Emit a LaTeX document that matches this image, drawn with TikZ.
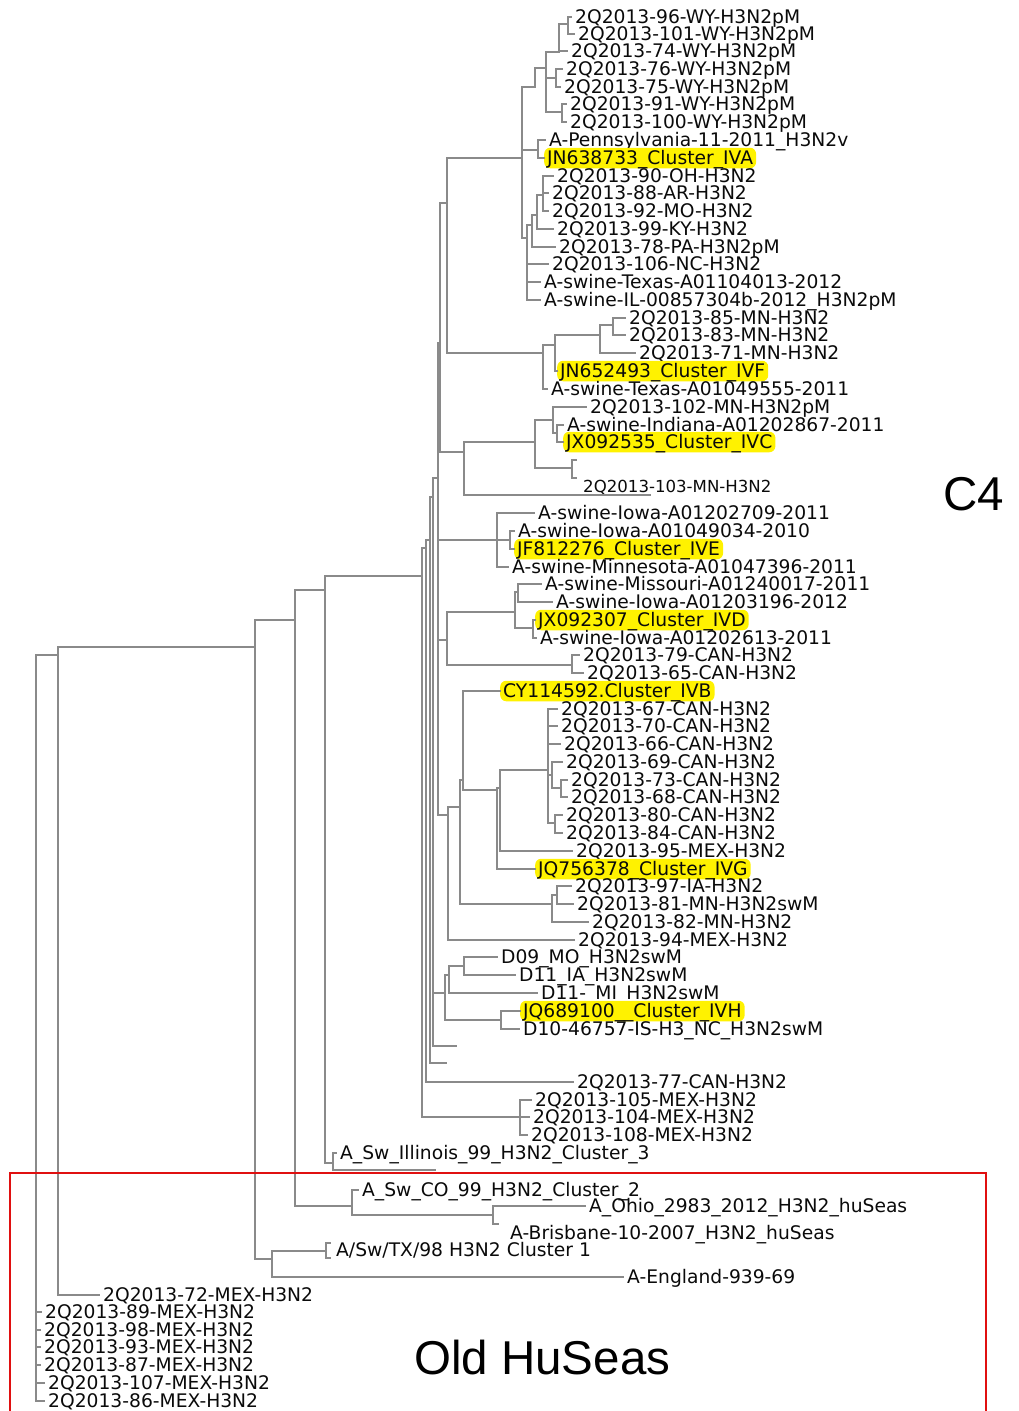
\documentclass[tikz,border=0pt]{standalone}
\usepackage{fontspec}
\setmainfont{DejaVu Sans}
\newfontfamily\cladefont{Liberation Sans}
\usepackage{xcolor}
\definecolor{treeInk}{HTML}{0A0A0A}
\definecolor{treeLine}{HTML}{8A8A8A}
\definecolor{hiYellow}{HTML}{FFF200}
\definecolor{boxRed}{HTML}{E01010}

\tikzset{
  branch/.style={treeLine, line width=1.2pt},
  taxon/.style={anchor=west, xshift=-4pt, inner xsep=4pt, inner ysep=0pt,
                text height=13.5pt, text depth=0pt, text=treeInk,
                font=\fontsize{18.7}{20}\selectfont},
  refseq/.style={anchor=west, xshift=-3pt, inner xsep=3pt, inner ysep=3.5pt,
                 text height=13.5pt, text depth=0pt, text=treeInk,
                 fill=hiYellow, rounded corners=6pt,
                 font=\fontsize{18.7}{20}\selectfont},
  cladelbl/.style={anchor=west, inner sep=0pt, text height=34pt, text depth=0pt,
                   text=black, font=\cladefont\fontsize{47.5}{50}\selectfont},
}

\begin{document}
\begin{tikzpicture}[x=1pt, y=-1pt, line cap=rect]

\useasboundingbox (0,0) rectangle (1019,1411);

% --- cluster IVA ---
\node[taxon] (wy96)  at (575,17)  {2Q2013-96-WY-H3N2pM};
\node[taxon] (wy101) at (578,34)  {2Q2013-101-WY-H3N2pM};
\node[taxon] (wy74)  at (571,51)  {2Q2013-74-WY-H3N2pM};
\node[taxon] (wy76)  at (566,69)  {2Q2013-76-WY-H3N2pM};
\node[taxon] (wy75)  at (564,87)  {2Q2013-75-WY-H3N2pM};
\node[taxon] (wy91)  at (570,104) {2Q2013-91-WY-H3N2pM};
\node[taxon] (wy100) at (570,122) {2Q2013-100-WY-H3N2pM};
\node[taxon] (penn)  at (549,140) {A-Pennsylvania-11-2011\_H3N2v};
\node[refseq] (iva)  at (547,158) {JN638733\_Cluster\_IVA};
\node[taxon] (oh90)  at (557,176) {2Q2013-90-OH-H3N2};
\node[taxon] (ar88)  at (552,193) {2Q2013-88-AR-H3N2};
\node[taxon] (mo92)  at (552,211) {2Q2013-92-MO-H3N2};
\node[taxon] (ky99)  at (557,229) {2Q2013-99-KY-H3N2};
\node[taxon] (pa78)  at (559,247) {2Q2013-78-PA-H3N2pM};
\node[taxon] (nc106) at (552,264) {2Q2013-106-NC-H3N2};
\node[taxon] (tx13)  at (544,282) {A-swine-Texas-A01104013-2012};
\node[taxon] (il12)  at (544,300) {A-swine-IL-00857304b-2012\_H3N2pM};

\coordinate (n1)   at (568,24);
\coordinate (n2)   at (559,52);
\coordinate (n45)  at (556,78);
\coordinate (n67)  at (562,112);
\coordinate (n3)   at (546,68);
\coordinate (n4)   at (535,87);
\coordinate (npa)  at (538,150);
\coordinate (m1)   at (543,195);
\coordinate (m2)   at (537,215);
\coordinate (m3)   at (532,225);
\coordinate (m4)   at (527,238);
\coordinate (atop) at (522,158);

% --- cluster IVF ---
\node[taxon] (mn85)  at (629,318) {2Q2013-85-MN-H3N2};
\node[taxon] (mn83)  at (629,335) {2Q2013-83-MN-H3N2};
\node[taxon] (mn71)  at (639,353) {2Q2013-71-MN-H3N2};
\node[refseq] (ivf)  at (560,371) {JN652493\_Cluster\_IVF};
\node[taxon] (tx11)  at (551,389) {A-swine-Texas-A01049555-2011};

\coordinate (f1) at (613,325);
\coordinate (f2) at (600,335);
\coordinate (f3) at (555,345);
\coordinate (f4) at (543,353);
\coordinate (b1) at (447,203);

% --- cluster IVC ---
\node[taxon] (mn102) at (590,407) {2Q2013-102-MN-H3N2pM};
\node[taxon] (ind)   at (567,425) {A-swine-Indiana-A01202867-2011};
\node[refseq] (ivc)  at (566,442) {JX092535\_Cluster\_IVC};
\node[taxon, font=\fontsize{16.6}{18}\selectfont] (mn103) at (583,486) {2Q2013-103-MN-H3N2};

\coordinate (c1)  at (553,420);
\coordinate (c2)  at (557,433);
\coordinate (c3)  at (572,468);
\coordinate (c3a) at (576,460);
\coordinate (c3b) at (576,478);
\coordinate (c0)  at (535,442);
\coordinate (cc)  at (464,452);
\coordinate (mn103tip) at (650,495);
\coordinate (b2)  at (440,343);

% --- cluster IVE ---
\node[taxon] (ia09)  at (538,513) {A-swine-Iowa-A01202709-2011};
\node[taxon] (ia10)  at (518,531) {A-swine-Iowa-A01049034-2010};
\node[refseq] (ive)  at (517,549) {JF812276\_Cluster\_IVE};
\node[taxon] (minn)  at (512,567) {A-swine-Minnesota-A01047396-2011};

\coordinate (e1) at (510,540);
\coordinate (e2) at (497,540);

% --- cluster IVD ---
\node[taxon] (miss)  at (545,584) {A-swine-Missouri-A01240017-2011};
\node[taxon] (ia12)  at (556,602) {A-swine-Iowa-A01203196-2012};
\node[refseq] (ivd)  at (538,620) {JX092307\_Cluster\_IVD};
\node[taxon] (ia11)  at (540,638) {A-swine-Iowa-A01202613-2011};
\node[taxon] (can79) at (583,655) {2Q2013-79-CAN-H3N2};
\node[taxon] (can65) at (587,673) {2Q2013-65-CAN-H3N2};

\coordinate (dd1) at (518,592);
\coordinate (dd2) at (533,628);
\coordinate (dd3) at (515,612);
\coordinate (dd4) at (572,665);
\coordinate (dd5) at (447,640);

% --- clusters IVB / IVG ---
\node[refseq] (ivb)  at (503,691) {CY114592.Cluster\_IVB};
\node[taxon] (can67) at (561,709) {2Q2013-67-CAN-H3N2};
\node[taxon] (can70) at (561,726) {2Q2013-70-CAN-H3N2};
\node[taxon] (can66) at (564,744) {2Q2013-66-CAN-H3N2};
\node[taxon] (can69) at (566,762) {2Q2013-69-CAN-H3N2};
\node[taxon] (can73) at (571,780) {2Q2013-73-CAN-H3N2};
\node[taxon] (can68) at (571,797) {2Q2013-68-CAN-H3N2};
\node[taxon] (can80) at (566,815) {2Q2013-80-CAN-H3N2};
\node[taxon] (can84) at (566,833) {2Q2013-84-CAN-H3N2};
\node[taxon] (mex95) at (576,851) {2Q2013-95-MEX-H3N2};
\node[refseq] (ivg)  at (538,869) {JQ756378\_Cluster\_IVG};
\node[taxon] (ia97)  at (575,886) {2Q2013-97-IA-H3N2};
\node[taxon] (mn81)  at (577,904) {2Q2013-81-MN-H3N2swM};
\node[taxon] (mn82)  at (592,922) {2Q2013-82-MN-H3N2};
\node[taxon] (mex94) at (578,940) {2Q2013-94-MEX-H3N2};

\coordinate (c7368) at (561,788);
\coordinate (c69)   at (552,775);
\coordinate (c8084) at (555,823);
\coordinate (can)   at (548,770);
\coordinate (g4)    at (500,788);
\coordinate (g5)    at (497,790);
\coordinate (g6)    at (463,780);
\coordinate (g2a)   at (557,895);
\coordinate (g2)    at (552,904);
\coordinate (g7)    at (460,807);
\coordinate (g8)    at (448,815);
\coordinate (b3)    at (438,478);

% --- cluster IVH ---
\node[taxon] (d09)   at (501,957)  {D09\_MO\_H3N2swM};
\node[taxon] (d11ia) at (519,975)  {D11\_IA\_H3N2swM};
\node[taxon] (d11mi) at (541,993)  {D11-\_MI\_H3N2swM};
\node[refseq] (ivh)  at (523,1011) {JQ689100\_\_Cluster\_IVH};
\node[taxon] (d10)   at (523,1029) {D10-46757-IS-H3\_NC\_H3N2swM};

\coordinate (d1) at (464,966);
\coordinate (d2) at (449,975);
\coordinate (d3) at (501,1020);
\coordinate (d0) at (445,993);

% --- backbone and older lineages ---
\node[taxon] (can77)  at (577,1082) {2Q2013-77-CAN-H3N2};
\node[taxon] (mex105) at (535,1100) {2Q2013-105-MEX-H3N2};
\node[taxon] (mex104) at (533,1117) {2Q2013-104-MEX-H3N2};
\node[taxon] (mex108) at (531,1135) {2Q2013-108-MEX-H3N2};
\node[taxon] (ill99)  at (340,1153) {A\_Sw\_Illinois\_99\_H3N2\_Cluster\_3};
\node[taxon] (co99)   at (362,1190) {A\_Sw\_CO\_99\_H3N2\_Cluster\_2};
\node[taxon] (ohio)   at (589,1206) {A\_Ohio\_2983\_2012\_H3N2\_huSeas};
\node[taxon] (bris)   at (510,1233) {A-Brisbane-10-2007\_H3N2\_huSeas};
\node[taxon] (tx98)   at (336,1250) {A/Sw/TX/98 H3N2 Cluster 1};
\node[taxon] (eng)    at (627,1277) {A-England-939-69};
\node[taxon] (mex72)  at (103,1295) {2Q2013-72-MEX-H3N2};
\node[taxon] (mex89)  at (45,1312)  {2Q2013-89-MEX-H3N2};
\node[taxon] (mex98)  at (44,1330)  {2Q2013-98-MEX-H3N2};
\node[taxon] (mex93)  at (44,1347)  {2Q2013-93-MEX-H3N2};
\node[taxon] (mex87)  at (44,1365)  {2Q2013-87-MEX-H3N2};
\node[taxon] (mex107) at (48,1383)  {2Q2013-107-MEX-H3N2};
\node[taxon] (mex86)  at (48,1401)  {2Q2013-86-MEX-H3N2};

\coordinate (b4)   at (433,497);
\coordinate (u1)   at (456,1046);
\coordinate (b5)   at (430,540);
\coordinate (u2)   at (446,1063);
\coordinate (b6)   at (426,548);
\coordinate (mex3) at (520,1117);
\coordinate (b7)   at (422,576);
\coordinate (ill)  at (333,1163);
\coordinate (u4)   at (435,1170);
\coordinate (q)    at (325,590);
\coordinate (ob)   at (493,1215);
\coordinate (bristip) at (498,1224);
\coordinate (co)   at (352,1206);
\coordinate (r3)   at (295,620);
\coordinate (tx)   at (326,1251);
\coordinate (txa)  at (330,1243);
\coordinate (txb)  at (330,1258);
\coordinate (ttx)  at (272,1259);
\coordinate (r2)   at (255,647);
\coordinate (r1)   at (58,655);
\coordinate (root) at (36,1330);

% --- branches ---
\foreach \p/\c in {n1/wy96, n1/wy101, n2/n1, n2/wy74, n45/wy76, n45/wy75,
    n67/wy91, n67/wy100, n3/n2, n3/n45, n3/n67, n4/n3, npa/penn, npa/iva,
    m1/oh90, m1/ar88, m1/mo92, m2/m1, m2/ky99, m3/m2, m3/pa78, m4/m3,
    m4/nc106, m4/tx13, m4/il12, atop/n4, atop/npa, atop/m4,
    f1/mn85, f1/mn83, f2/f1, f2/mn71, f3/f2, f3/ivf, f4/f3, f4/tx11,
    b1/atop, b1/f4,
    c2/ind, c2/ivc, c1/mn102, c1/c2, c3/c3a, c3/c3b, c0/c1, c0/c3,
    cc/c0, cc/mn103tip, b2/b1, b2/cc,
    e1/ia10, e1/ive, e2/ia09, e2/e1, e2/minn,
    dd1/miss, dd1/ia12, dd2/ivd, dd2/ia11, dd3/dd1, dd3/dd2,
    dd4/can79, dd4/can65, dd5/dd3, dd5/dd4,
    c7368/can73, c7368/can68, c69/can69, c69/c7368, c8084/can80,
    c8084/can84, can/can67, can/can70, can/can66, can/c69, can/c8084,
    g4/can, g4/mex95, g5/g4, g5/ivg, g6/ivb, g6/g5, g2a/ia97, g2a/mn81,
    g2/g2a, g2/mn82, g7/g6, g7/g2, g8/g7, g8/mex94,
    b3/b2, b3/e2, b3/dd5, b3/g8,
    d1/d09, d1/d11ia, d2/d1, d2/d11mi, d3/ivh, d3/d10, d0/d2, d0/d3,
    b4/b3, b4/d0, b4/u1, b5/b4, b5/u2, b6/b5, b6/can77,
    mex3/mex105, mex3/mex104, mex3/mex108, b7/b6, b7/mex3,
    ill/ill99, ill/u4, q/b7, q/ill, ob/ohio, ob/bristip, co/co99, co/ob,
    r3/q, r3/co, tx/txa, tx/txb, ttx/tx, ttx/eng, r2/r3, r2/ttx,
    r1/r2, r1/mex72, root/r1, root/mex89, root/mex98, root/mex93,
    root/mex87, root/mex107, root/mex86}
  \draw[branch] (\p) |- (\c);

% --- clade labels ---
\node[cladelbl] (lblC4)  at (943,493)  {C4};
\draw[boxRed, line width=1.6pt] (10,1430) -- (10,1173) -- (986,1173) -- (986,1430);
\node[cladelbl] (lblOld) at (414,1357) {Old HuSeas};

\end{tikzpicture}
\end{document}
